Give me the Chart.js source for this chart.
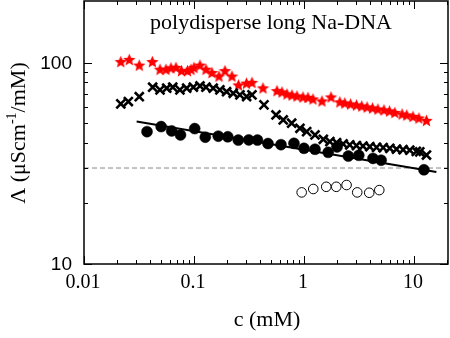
<!DOCTYPE html>
<html>
<head>
<meta charset="utf-8">
<script src="https://cdn.jsdelivr.net/npm/chart.js@4.4.1/dist/chart.umd.min.js"></script>
<style>
  html, body { margin: 0; padding: 0; background: #fff; }
  #wrap { width: 450px; height: 338px; }
</style>
</head>
<body>
<div id="wrap"><canvas id="chart" width="450" height="338" style="width:450px;height:338px"></canvas></div>
<script>
// axis ranges (log-log)
const X_MIN = 0.01, X_MAX = 20.4;
const Y_MIN = 10, Y_MAX = 203;
const X_TICKS = [0.01, 0.1, 1, 10];
const X_TICK_LABELS = ["0.01", "0.1", "1", "10"];
const Y_TICKS = [10, 100];
const Y_TICK_LABELS = ["10", "100"];

// red stars
const starC = [0.0216, 0.0258, 0.0318, 0.0418, 0.0491, 0.0556, 0.0618, 0.0686, 0.077, 0.0873, 0.094, 0.1, 0.1134, 0.1285, 0.1457, 0.1687, 0.1914, 0.2215, 0.2538, 0.30, 0.3367, 0.424, 0.568, 0.631, 0.701, 0.778, 0.864, 0.979, 1.087, 1.207, 1.458, 1.76, 2.12, 2.35, 2.65, 3.0, 3.35, 3.75, 4.2, 4.7, 5.34, 6.0, 6.7, 7.8, 8.6, 9.8, 11.1, 13.0];
const starL = [101.5, 104, 97.5, 101.5, 93, 93, 94.5, 95, 91.5, 91.5, 93, 95, 97.5, 93, 89.5, 86, 91.5, 86, 77.7, 79.3, 80, 75.1, 72.8, 71.7, 70.1, 69.3, 68.5, 67.7, 67.4, 66.2, 64.7, 67.7, 64, 63.2, 62.5, 61.8, 61.1, 60.4, 59.7, 59, 58.4, 57.7, 56.7, 55.7, 55.1, 54.2, 53.2, 51.8];

// black crosses
const crossC = [0.0216, 0.0253, 0.0318, 0.0421, 0.0491, 0.0565, 0.0641, 0.0745, 0.0858, 0.0987, 0.1134, 0.1285, 0.1496, 0.172, 0.1979, 0.2276, 0.2617, 0.301, 0.3367, 0.433, 0.557, 0.648, 0.773, 0.919, 1.058, 1.26, 1.5, 1.72, 1.98, 2.27, 2.61, 3.0, 3.44, 3.97, 4.57, 5.25, 6.03, 6.94, 7.97, 9.16, 10.5, 11.3, 13.0];
const crossL = [62.5, 64.2, 67.9, 75.7, 73.4, 74.8, 75.7, 73.4, 74.8, 75.7, 76.8, 75.7, 74.8, 73.4, 71.9, 70.6, 69.3, 68.0, 69.3, 61.8, 55.1, 52.0, 50.1, 47.3, 45.5, 43.8, 41.7, 40.6, 40.1, 39.5, 39.1, 38.8, 38.6, 38.3, 38.0, 37.9, 37.6, 37.2, 37.0, 36.8, 36.3, 36.1, 34.8];

// filled circles
const circC = [0.0374, 0.0503, 0.0627, 0.0754, 0.1015, 0.1267, 0.1663, 0.2029, 0.2527, 0.3149, 0.3777, 0.4708, 0.618, 0.811, 1.0, 1.26, 1.66, 2.0, 2.53, 3.15, 4.24, 5.03, 12.33];
const circL = [45.5, 48.2, 45.9, 43.8, 47.1, 42.7, 43.2, 42.9, 41.3, 41.4, 41.3, 39.7, 39.2, 39.8, 37.6, 37.2, 35.9, 38.2, 34.4, 34.7, 33.5, 32.8, 29.4];

// open circles
const openC = [0.953, 1.215, 1.594, 1.966, 2.44, 3.05, 3.92, 4.84];
const openL = [22.7, 23.6, 24.2, 24.2, 24.7, 22.7, 22.6, 23.3];

// power-law fit through the filled circles
const fitC = [0.0301, 16.0];
const fitL = [51.1, 28.7];

// dashed reference level
const refC = [X_MIN, X_MAX];
const refL = [30, 30];

const pts = (xs, ys) => xs.map((x, i) => ({ x, y: ys[i] }));

function starImage(r, color) {
  const size = Math.ceil(r * 2 + 2);
  const cv = document.createElement("canvas");
  cv.width = size; cv.height = size;
  const g = cv.getContext("2d");
  const cx = size / 2, cy = size / 2 + r * 0.1;
  g.beginPath();
  for (let i = 0; i < 10; i++) {
    const rad = i % 2 ? r * 0.45 : r;
    const a = -Math.PI / 2 + i * Math.PI / 5;
    g.lineTo(cx + rad * Math.cos(a), cy + rad * Math.sin(a));
  }
  g.closePath();
  g.fillStyle = color;
  g.fill();
  return cv;
}

const SERIF = "'Liberation Serif', 'Times New Roman', serif";
const SANS = "'Liberation Sans', Arial, sans-serif";

// frame, inward ticks on all four sides, labels and titles
const frame = {
  id: "frame",
  afterDraw(chart) {
    const { ctx, chartArea: a, scales: { x, y } } = chart;
    ctx.save();
    ctx.strokeStyle = "#000";
    ctx.lineWidth = 1;
    const seg = (x1, y1, x2, y2) => { ctx.beginPath(); ctx.moveTo(x1, y1); ctx.lineTo(x2, y2); ctx.stroke(); };

    for (const d of X_TICKS) {
      for (let k = 1; k <= 9; k++) {
        const v = k * d;
        if (v > X_MAX) break;
        const px = Math.round(x.getPixelForValue(v)) + 0.5;
        const len = k === 1 ? 8 : 4;
        seg(px, a.bottom, px, a.bottom - len);
        seg(px, a.top, px, a.top + len);
      }
    }
    for (let k = 1; k <= 10; k++) {
      const v = k * 10;
      const py = Math.round(y.getPixelForValue(v)) + 0.5;
      const len = (k === 1 || k === 10) ? 8 : 4;
      seg(a.left, py, a.left + len, py);
      seg(a.right, py, a.right - len, py);
    }

    ctx.lineWidth = 1.5;
    ctx.strokeRect(a.left, a.top, a.right - a.left, a.bottom - a.top);

    ctx.fillStyle = "#000";
    ctx.font = "20px " + SERIF;
    ctx.textAlign = "center";
    ctx.textBaseline = "alphabetic";
    X_TICKS.forEach((v, i) => ctx.fillText(X_TICK_LABELS[i], x.getPixelForValue(v) - 1, 288));

    ctx.font = "19px " + SANS;
    ctx.textAlign = "right";
    ctx.textBaseline = "middle";
    Y_TICKS.forEach((v, i) => ctx.fillText(Y_TICK_LABELS[i], 72, y.getPixelForValue(v) + 1));

    ctx.font = "22px " + SERIF;
    ctx.textAlign = "center";
    ctx.textBaseline = "alphabetic";
    ctx.fillText("polydisperse long Na-DNA", 271, 29);
    ctx.fillText("c (mM)", 267, 326);

    // rotated y title with superscript
    const p1 = "\u039B (\u03BCScm", sup = "-1", p2 = "/mM)";
    ctx.translate(25, 133);
    ctx.rotate(-Math.PI / 2);
    ctx.font = "22px " + SERIF;
    const w1 = ctx.measureText(p1).width, w3 = ctx.measureText(p2).width;
    ctx.font = "14px " + SERIF;
    const w2 = ctx.measureText(sup).width;
    let cx = -(w1 + w2 + w3) / 2;
    ctx.textAlign = "left";
    ctx.font = "22px " + SERIF;
    ctx.fillText(p1, cx, 0); cx += w1;
    ctx.font = "14px " + SERIF;
    ctx.fillText(sup, cx, -9); cx += w2;
    ctx.font = "22px " + SERIF;
    ctx.fillText(p2, cx, 0);
    ctx.restore();
  },
};

new Chart(document.getElementById("chart"), {
  type: "scatter",
  data: {
    datasets: [
      { data: pts(fitC, fitL), showLine: true, borderColor: "#000", borderWidth: 2, pointRadius: 0 },
      { data: pts(circC, circL), pointStyle: "circle", pointRadius: 5.5, borderWidth: 0.5, borderColor: "#000", backgroundColor: "#000" },
      { data: pts(crossC, crossL), pointStyle: "crossRot", pointRadius: 6.3, borderWidth: 2.6, borderColor: "#000" },
      { data: pts(starC, starL), pointStyle: starImage(6.5, "#ff0000") },
      { data: pts(openC, openL), pointStyle: "circle", pointRadius: 4.8, borderWidth: 1, borderColor: "#000", backgroundColor: "#fff" },
      { data: pts(refC, refL), showLine: true, borderColor: "#888", borderWidth: 1, borderDash: [5, 3], pointRadius: 0 },
    ],
  },
  options: {
    responsive: false,
    animation: false,
    devicePixelRatio: 1,
    layout: { autoPadding: false, padding: { top: 1, right: 2, left: 0, bottom: 0 } },
    plugins: { legend: { display: false }, tooltip: { enabled: false } },
    scales: {
      x: {
        type: "logarithmic", min: X_MIN, max: X_MAX,
        grid: { display: false }, border: { display: false }, ticks: { display: false },
        afterFit: (s) => { s.height = 74; },
      },
      y: {
        type: "logarithmic", min: Y_MIN, max: Y_MAX,
        grid: { display: false }, border: { display: false }, ticks: { display: false },
        afterFit: (s) => { s.width = 84; },
      },
    },
  },
  plugins: [frame],
});
</script>
</body>
</html>
